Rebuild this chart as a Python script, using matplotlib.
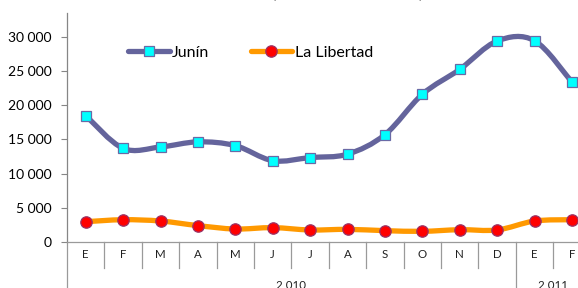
import matplotlib
matplotlib.use("Agg")
import matplotlib.pyplot as plt
from matplotlib.path import Path
from matplotlib.patches import PathPatch
from matplotlib.lines import Line2D
import matplotlib.transforms as mtrans
import numpy as np

plt.rcParams['font.family'] = ['Lato', 'DejaVu Sans']

months = ["E", "F", "M", "A", "M", "J", "J", "A", "S", "O", "N", "D", "E", "F"]
years = ["2 010", "2 011"]
year_counts = [12, 2]
junin = [18500, 13700, 13900, 14650, 14100, 11900, 12350, 12850, 15700, 21600, 25250, 29400, 29450, 23400]
libertad = [2970, 3260, 3070, 2400, 1900, 2100, 1760, 1850, 1660, 1560, 1800, 1760, 3070, 3260]
title = "(Toneladas métricas)"
yticks = [0, 5000, 10000, 15000, 20000, 25000, 30000]

W, H = 578, 288
fig = plt.figure(figsize=(W / 100, H / 100), dpi=100)
ax_left, ax_top, ax_bottom = 67, 13, 242
cat_w = 37.4
ax_right = ax_left + cat_w * len(months)
ax = fig.add_axes([ax_left / W, 1 - ax_bottom / H, (ax_right - ax_left) / W, (ax_bottom - ax_top) / H])
ax.set_xlim(-0.5, len(months) - 0.5)
ax.set_ylim(0, 33500)

def smooth_path(xs, ys):
    pts = np.column_stack([xs, ys]).astype(float)
    n = len(pts)
    verts = [pts[0]]
    codes = [Path.MOVETO]
    for i in range(n - 1):
        p0 = pts[i - 1] if i > 0 else pts[i]
        p1 = pts[i]
        p2 = pts[i + 1]
        p3 = pts[i + 2] if i + 2 < n else pts[i + 1]
        c1 = p1 + (p2 - p0) / 6.0
        c2 = p2 - (p3 - p1) / 6.0
        verts += [c1, c2, p2]
        codes += [Path.CURVE4] * 3
    return Path(verts, codes)

x = np.arange(len(months))
jcol = "#64649c"
lcol = "#ff9900"
for ys, col in [(junin, jcol), (libertad, lcol)]:
    patch = PathPatch(smooth_path(x, ys), facecolor="none", edgecolor=col, lw=3.8,
                      capstyle="round", joinstyle="round", zorder=2)
    ax.add_patch(patch)

ax.plot(x, junin, ls="none", marker="s", ms=7.2, mfc="#00ffff", mec="#6a6aa6", mew=0.9, zorder=3)
ax.plot(x, libertad, ls="none", marker="o", ms=8.2, mfc="#ff0000", mec="#993366", mew=0.9, zorder=3)

# axes styling
for s in ["top", "right"]:
    ax.spines[s].set_visible(False)
ax.spines["left"].set_color("#868686")
ax.spines["bottom"].set_color("#9a9a9a")
ax.spines["left"].set_linewidth(0.9)
ax.spines["bottom"].set_linewidth(0.9)
ax.set_yticks(yticks)
ax.set_yticklabels([f"{v:,}".replace(",", " ") for v in yticks])
ax.tick_params(axis="y", direction="out", length=4, color="#868686", labelsize=10, pad=7)
ax.set_xticks([])

# category table below axis
trans = mtrans.blended_transform_factory(ax.transData, ax.transAxes)
hpx = ax_bottom - ax_top
short = -26 / hpx
long_ = -46 / hpx
boundaries = [0]
acc = 0
for c in year_counts:
    acc += c
    boundaries.append(acc)
for k in range(len(months) + 1):
    xb = k - 0.5
    yb = long_ if k in boundaries else short
    ax.add_line(Line2D([xb, xb], [0, yb], transform=trans, color="#9a9a9a", lw=0.9, clip_on=False))
for i, m in enumerate(months):
    ax.text(i, -13 / hpx, m, transform=trans, ha="center", va="center", fontsize=8.3, color="#202020")
start = 0
for yl, c in zip(years, year_counts):
    ax.text(start + c / 2 - 0.5, -38 / hpx, yl, transform=trans, ha="center", va="top", fontsize=8.3, color="#202020")
    start += c

# legend
handles = [
    Line2D([], [], color=jcol, lw=3.8, marker="s", ms=7.2, mfc="#00ffff", mec="#6a6aa6", mew=0.9, solid_capstyle="round"),
    Line2D([], [], color=lcol, lw=3.8, marker="o", ms=8.2, mfc="#ff0000", mec="#993366", mew=0.9, solid_capstyle="round"),
]
fig.legend(handles, ["Junín", "La Libertad"], loc="center left", ncol=2, frameon=False,
           bbox_to_anchor=(128 / W, 1 - 52.5 / H), fontsize=11.5, handlelength=2.6,
           handletextpad=0.15, columnspacing=2.6, borderpad=0, borderaxespad=0)

# title (cut off at top)
fig.text(348 / W, 1 + 1.5 / H, title, ha="center", va="baseline", fontsize=12, fontweight="bold")

fig.savefig("out.png", dpi=100)
